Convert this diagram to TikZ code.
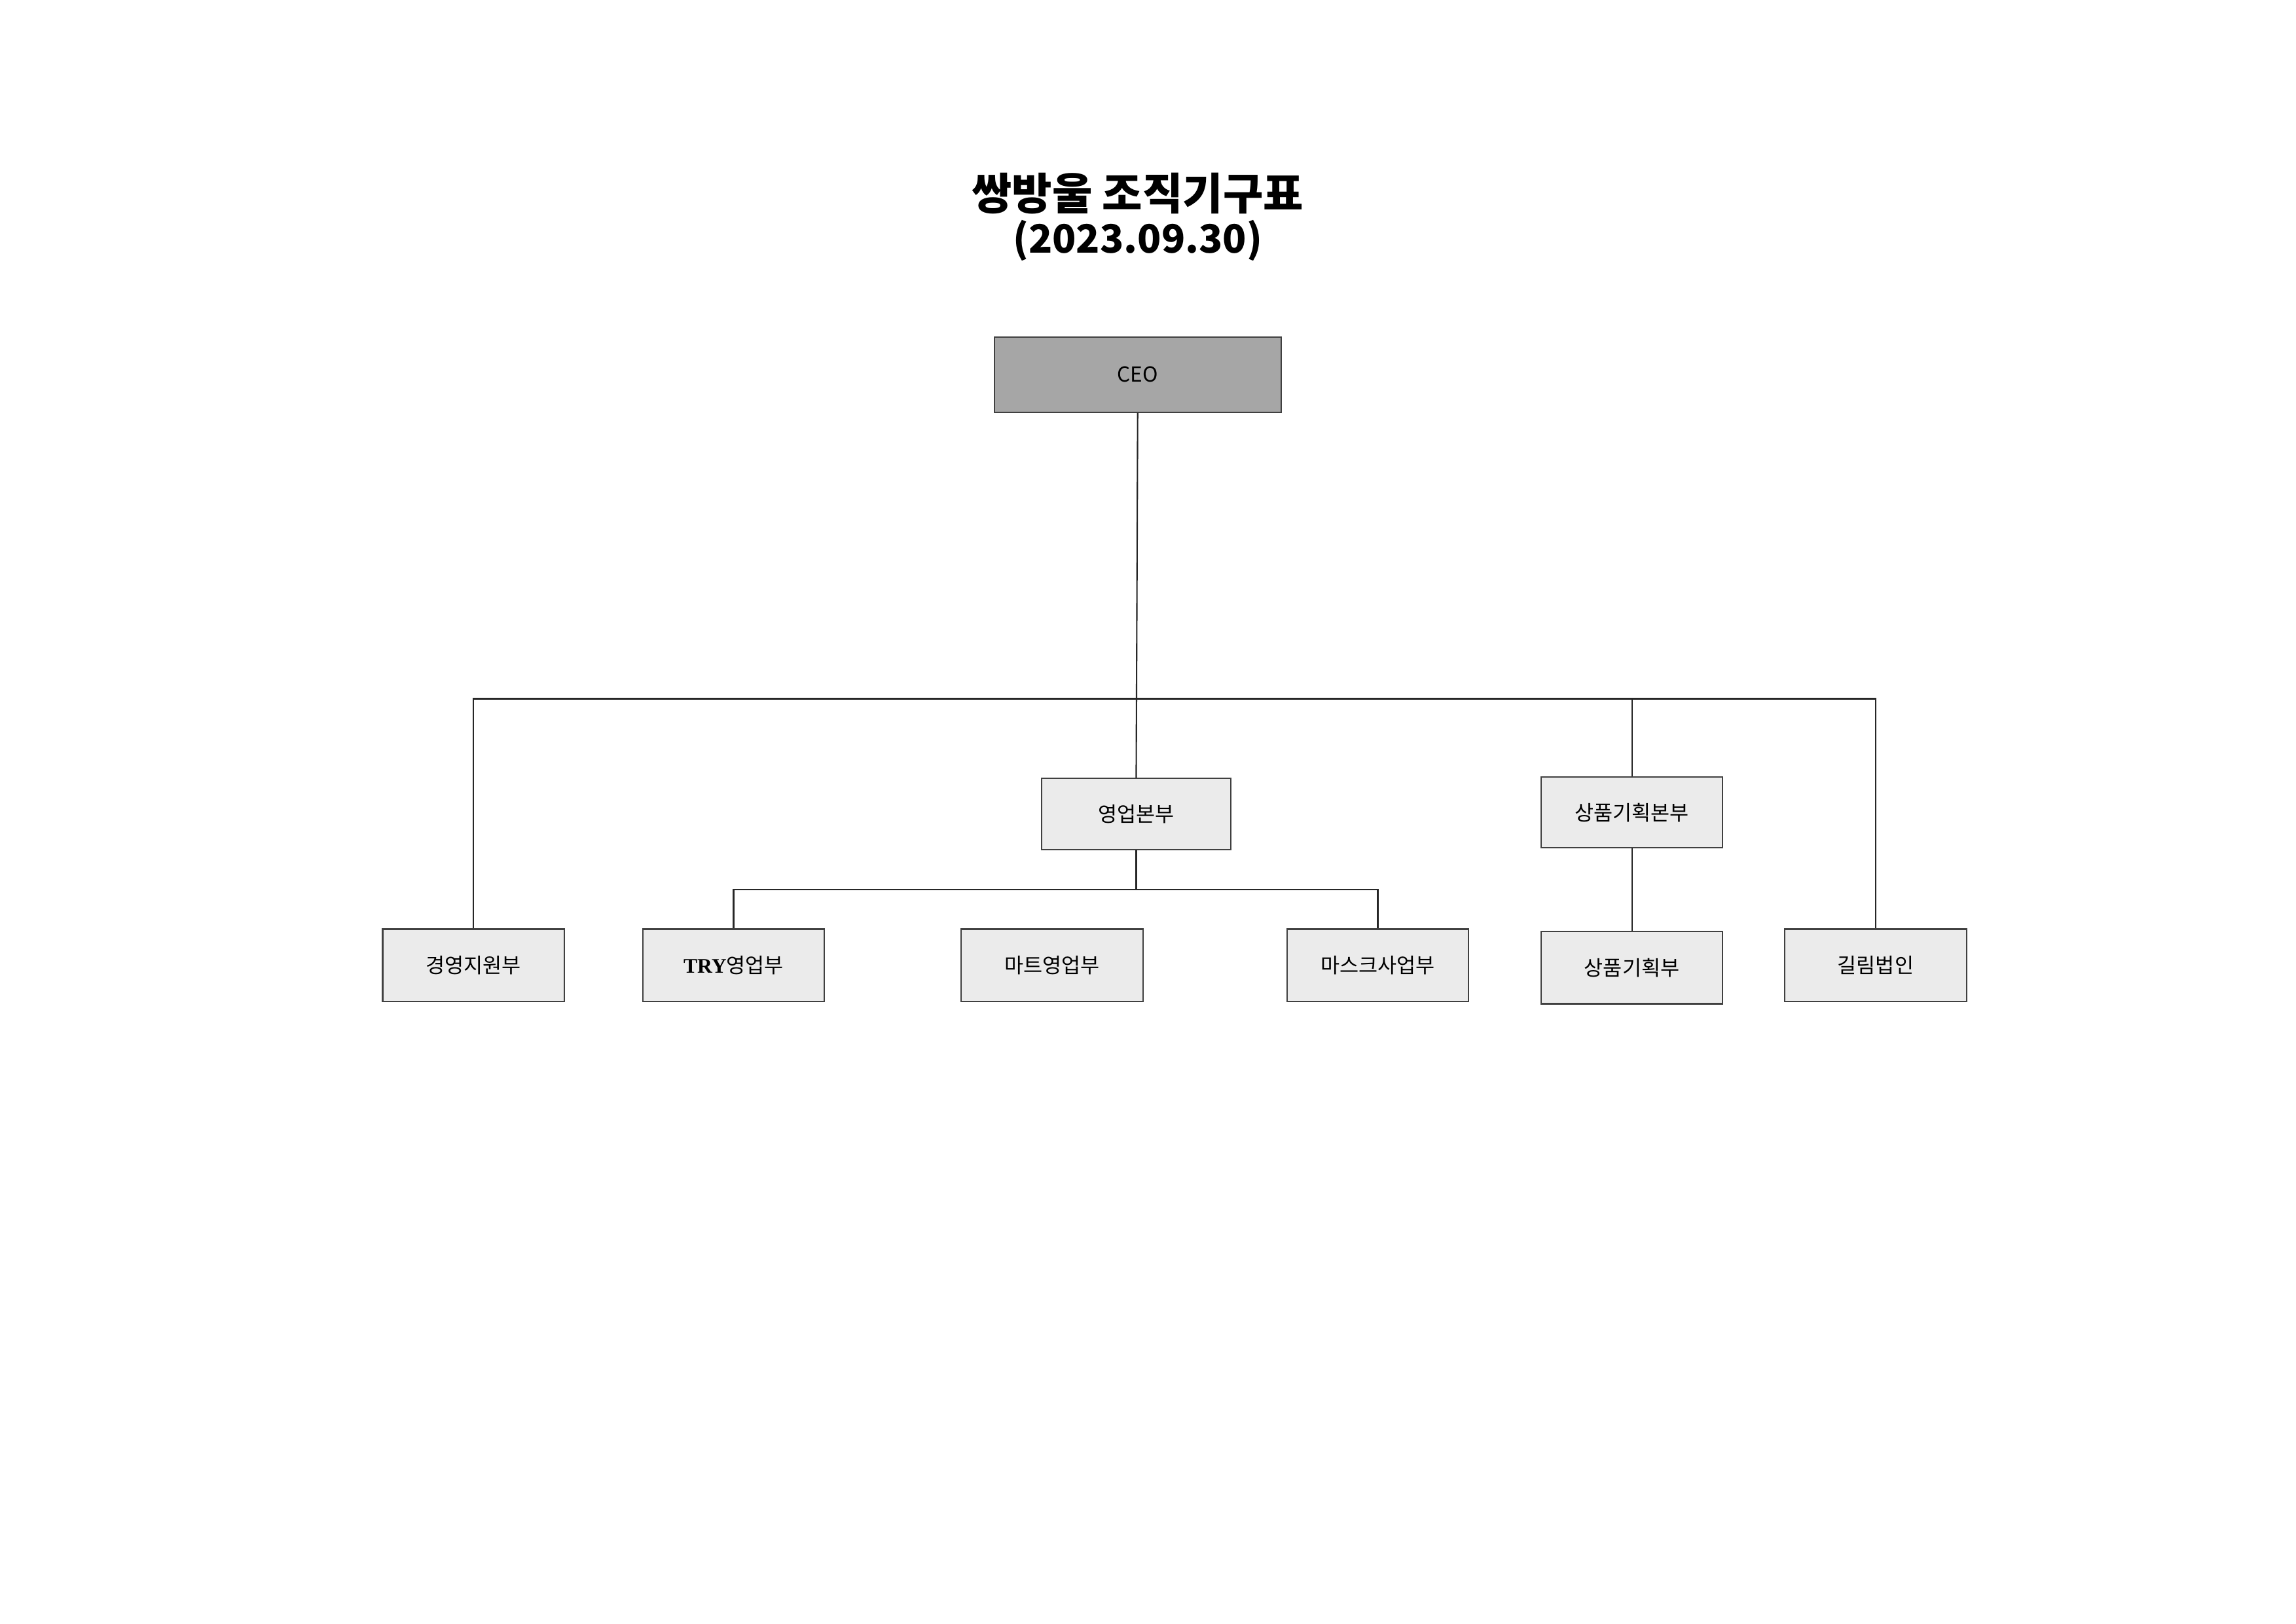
\documentclass[tikz,border=0pt]{standalone}
\usepackage{fontspec}
\newfontfamily\kr{Noto Sans CJK KR}
\setmainfont{Noto Sans CJK KR}
\begin{document}
\begin{tikzpicture}[x=0.022568cm,y=-0.022568cm,
  box/.style={draw=black!75,line width=0.6pt,fill=black!8,minimum width=123*0.022568cm,minimum height=49*0.022568cm,font=\kr\fontsize{9}{11}\selectfont,inner sep=0pt},
  conn/.style={draw=black!85,line width=0.6pt}]
\fill[white] (0,0) rectangle (1554,1099);
\node[font=\kr\bfseries\fontsize{19}{22}\selectfont] (title) at (770,131) {쌍방울 조직기구표};
\node[font=\kr\bfseries\fontsize{17}{20}\selectfont] (date) at (770,163) {(2023.09.30)};
\node[box,fill=black!35,minimum width=194*0.022568cm,minimum height=51*0.022568cm] (ceo) at (770,253.5) {CEO};
\node[box,minimum width=128*0.022568cm,minimum height=48*0.022568cm] (sales) at (769,551) {영업본부};
\node[box,minimum height=48*0.022568cm] (plan) at (1104.5,550) {상품기획본부};
\node[box] (mgmt) at (320.5,653.5) {경영지원부};
\node[box] (try) at (496.5,653.5) {{\fontspec{Liberation Serif}\bfseries TRY}영업부};
\node[box] (mart) at (712,653.5) {마트영업부};
\node[box] (mask) at (932.5,653.5) {마스크사업부};
\node[box] (pdept) at (1104.5,655) {상품기획부};
\node[box] (jilin) at (1269.5,653.5) {길림법인};
\coordinate (bus) at (770,473);
\coordinate (sbus) at (769,602);
\draw[conn] (ceo.south) -- (sales.north);
\draw[conn] (mgmt.north) |- (bus) -| (jilin.north);
\draw[conn] (bus -| plan.north) -- (plan.north);
\draw[conn] (try.north) |- (sbus) -| (mask.north);
\draw[conn] (sales.south) -- (sbus);
\draw[conn] (plan.south) -- (pdept.north);
\end{tikzpicture}
\end{document}
